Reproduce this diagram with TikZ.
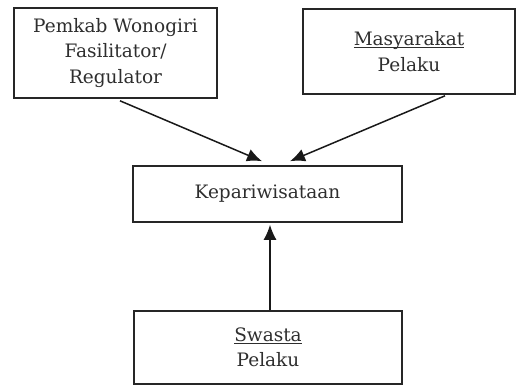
\documentclass[tikz,border=0pt]{standalone}
\usepackage{fontspec}
\setmainfont{DejaVu Serif}
\usetikzlibrary{arrows.meta}
\newcommand{\myul}[1]{\setbox0\hbox{#1}\rlap{\rule[-2.6pt]{\wd0}{0.9pt}}\box0}
\begin{document}
\begin{tikzpicture}[x=1pt,y=-1pt,
  box/.style={draw=black!85, line width=1.6pt, align=center, inner sep=0pt,
    font=\fontsize{18.5}{25.5}\selectfont, text=black!82},
  arr/.style={line width=1.5pt, draw=black!90, -{Latex[length=15pt,width=13pt]}}]
\useasboundingbox (0,0) rectangle (516,384);
\node[box, minimum width=203pt, minimum height=90pt] (b1) at (115.5,53) {Pemkab Wonogiri\\Fasilitator/\\Regulator};
\node[box, minimum width=212pt, minimum height=85pt] (b2) at (409,51.5) {\myul{Masyarakat}\\Pelaku};
\node[box, minimum width=269pt, minimum height=56pt] (b3) at (267.5,194) {Kepariwisataan};
\node[box, minimum width=268pt, minimum height=73pt] (b4) at (268,347.5) {\myul{Swasta}\\Pelaku};
\draw[arr] ([xshift=4.5pt,yshift=-2pt]b1.south) -- ([xshift=-5.5pt,yshift=4pt]b3.north);
\draw[arr] ([xshift=36pt,yshift=-1pt]b2.south) -- ([xshift=22.5pt,yshift=4pt]b3.north);
\draw[arr] ([xshift=2pt]b4.north) -- ([xshift=2.5pt,yshift=-2pt]b3.south);
\end{tikzpicture}
\end{document}
